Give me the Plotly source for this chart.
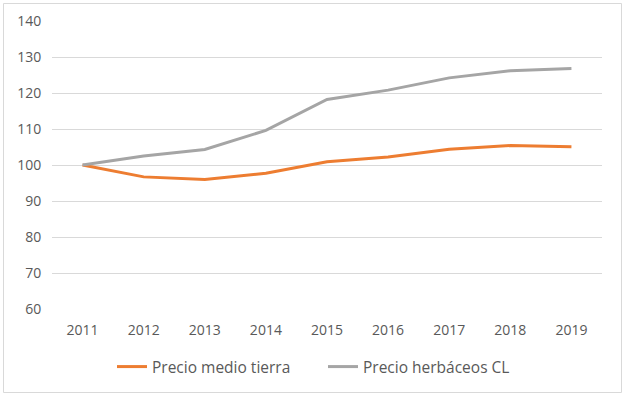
import plotly.graph_objects as go

years = ["2011", "2012", "2013", "2014", "2015", "2016", "2017", "2018", "2019"]
precio_medio_tierra = [100.0, 96.7, 96.0, 97.7, 100.9, 102.2, 104.4, 105.4, 105.1]
precio_herbaceos_cl = [100.0, 102.5, 104.3, 109.6, 118.2, 120.8, 124.2, 126.2, 126.8]
y_ticks = [60, 70, 80, 90, 100, 110, 120, 130, 140]

FONT = "Open Sans"
TXT = "#595959"

fig = go.Figure()
fig.add_trace(go.Scatter(x=years, y=precio_medio_tierra, mode="lines",
                         name="Precio medio tierra",
                         line=dict(color="#ED7D31", width=3)))
fig.add_trace(go.Scatter(x=years, y=precio_herbaceos_cl, mode="lines",
                         name="Precio herbáceos CL",
                         line=dict(color="#A5A5A5", width=3)))

L, R, T, B = 52, 25, 21, 89
W, H = 627, 398
pw, ph = W - L - R, H - T - B

def px_x(p):
    return (p - L) / pw

def px_y(p):
    return (H - B - p) / ph

fig.update_layout(
    width=W, height=H,
    margin=dict(l=L, r=R, t=T, b=B),
    paper_bgcolor="white", plot_bgcolor="rgba(0,0,0,0)",
    font=dict(family=FONT, size=14, color=TXT),
    showlegend=True,
    legend=dict(orientation="h", x=px_x(112), xanchor="left",
                y=px_y(367), yanchor="middle",
                font=dict(size=15.5, color=TXT), itemwidth=30,
                entrywidth=166, entrywidthmode="pixels",
                tracegroupgap=0, bgcolor="rgba(0,0,0,0)"),
    xaxis=dict(type="category", range=[-0.5, 8.5], showgrid=False,
               showline=False, zeroline=False, ticks="outside", ticklen=8,
               tickcolor="rgba(0,0,0,0)", tickfont=dict(size=14, color=TXT)),
    yaxis=dict(range=[60, 140], tickvals=y_ticks, showgrid=True,
               gridcolor="#D9D9D9", gridwidth=1, zeroline=False,
               showline=False, ticks="outside", ticklen=7,
               tickcolor="rgba(0,0,0,0)", tickfont=dict(size=14, color=TXT)),
)

fig.add_shape(type="rect", xref="paper", yref="paper",
              x0=px_x(3.5), x1=px_x(621.5),
              y0=px_y(392.5), y1=px_y(3.5),
              line=dict(color="#D9D9D9", width=1), fillcolor="rgba(0,0,0,0)",
              layer="above")

fig.write_html("out.html")
